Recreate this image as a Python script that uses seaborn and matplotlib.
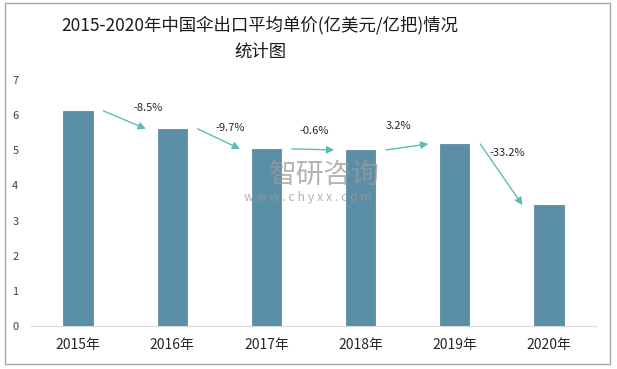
import matplotlib
matplotlib.use('Agg')
import matplotlib.pyplot as plt
import seaborn as sns
import pandas as pd
from matplotlib.patches import Rectangle

# data
years = ['2015年', '2016年', '2017年', '2018年', '2019年', '2020年']
price = [6.12, 5.61, 5.04, 5.01, 5.18, 3.44]
growth = ['-8.5%', '-9.7%', '-0.6%', '3.2%', '-33.2%']

# label placement for the growth arrows (x offset from bar i, y offset from value i)
label_dx = [0.74, 0.62, 0.51, 0.40, 0.56]
label_dy = [0.08, 0.02, 0.51, 0.68, -0.26]

sns.set_style('white')
plt.rcParams['font.family'] = ['Noto Sans CJK SC', 'DejaVu Sans']

df = pd.DataFrame({'year': years, 'price': price})

fig = plt.figure(figsize=(6.17, 3.69), dpi=100)
ax = fig.add_axes([31 / 617, 43 / 369, 565 / 617, 246 / 369])

sns.barplot(data=df, x='year', y='price', color='#5B8FA8', saturation=1,
            width=0.31, edgecolor='#4D7E96', linewidth=0.5, ax=ax)

ax.set_xlim(-0.5, 5.5)
ax.set_ylim(0, 7)
ax.set_yticks(range(0, 8))
ax.set_xlabel('')
ax.set_ylabel('')
for s in ['top', 'right', 'left']:
    ax.spines[s].set_visible(False)
ax.spines['bottom'].set_color('#D9D9D9')
ax.tick_params(axis='y', length=0, pad=9, labelsize=8, labelcolor='#404040')
ax.tick_params(axis='x', length=0, pad=9, labelsize=10, labelcolor='#262626')

# growth arrows between bars
teal = '#5DBDB5'
for i, g in enumerate(growth):
    ax.annotate('', xy=(i + 0.72, price[i + 1]), xytext=(i + 0.27, price[i]),
                arrowprops=dict(arrowstyle='-|>', color=teal, lw=1.0,
                                mutation_scale=11, shrinkA=0, shrinkB=0))
    ax.text(i + label_dx[i], price[i] + label_dy[i], g, ha='center',
            va='center', fontsize=8, color='#262626')

# title
fig.text(260 / 617, 1 - 25 / 369, '2015-2020年中国伞出口平均单价(亿美元/亿把)情况',
         ha='center', va='center', fontsize=12.5, color='#1a1a1a')
fig.text(260 / 617, 1 - 52 / 369, '统计图', ha='center', va='center',
         fontsize=12.5, color='#1a1a1a')

# watermark
fig.text(324 / 617, 1 - 175 / 369, '智研咨询', ha='center', va='center',
         fontsize=20, color='#9A9A9A', alpha=0.75)
fig.text(308 / 617, 1 - 197 / 369, 'w w w . c h y x x . c o m', ha='center',
         va='center', fontsize=9, color='#9A9A9A', alpha=0.75)

# outer frame
fig.patches.append(Rectangle((5 / 617, 5 / 369), 605 / 617, 361 / 369,
                             transform=fig.transFigure, fill=False,
                             edgecolor='#A6A6A6', linewidth=1))

fig.savefig('out.png', dpi=100)
